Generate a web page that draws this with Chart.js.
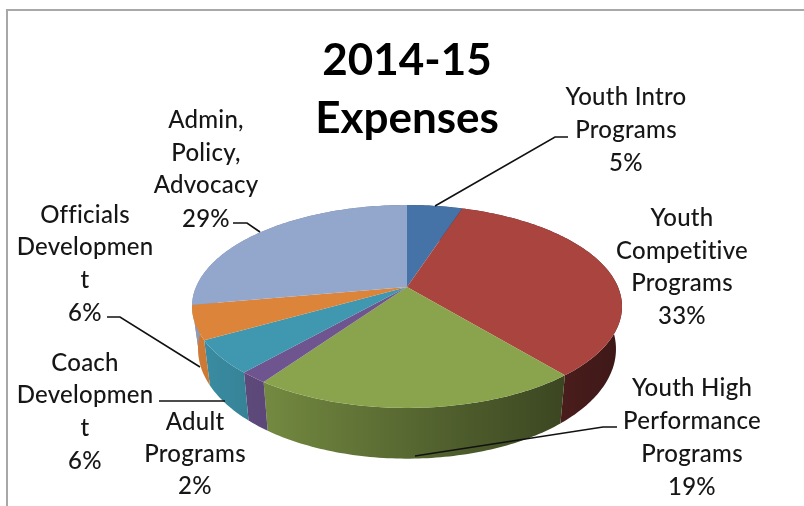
<!DOCTYPE html>
<html>
<head>
<meta charset="utf-8">
<title>2014-15 Expenses</title>
<script src="https://cdn.jsdelivr.net/npm/chart.js@4"></script>
<style>
  html, body { margin: 0; padding: 0; background: #fff; overflow: hidden; }
  #wrap { position: relative; width: 804px; height: 506px; }
  #frame { position: absolute; left: 6px; top: 9px; width: 820px; height: 520px; border: 2px solid #a8a8a8; }
  canvas { position: absolute; left: 0; top: 0; filter: blur(0.4px); }
</style>
</head>
<body>
<div id="wrap">
  <div id="frame"></div>
  <canvas id="chart" width="804" height="506"></canvas>
</div>
<script>
// --- data ---
const titleLines = ["2014-15", "Expenses"];
const categories = [
  "Youth Intro Programs",
  "Youth Competitive Programs",
  "Youth High Performance Programs",
  "Adult Programs",
  "Coach Development",
  "Officials Development",
  "Admin, Policy, Advocacy"
];
// printed percentages
const percentLabels = ["5%", "33%", "19%", "2%", "6%", "6%", "29%"];
// slice sizes as drawn in the picture (the green one is drawn wider than its 19% label)
const sliceValues = [5, 34, 20.7, 1.8, 5.3, 5.4, 27.8];

// --- styles ---
const sliceColors = ["#4572a7", "#a9443f", "#8aa44d", "#6e5590", "#3f98af", "#dd843b", "#93a7cd"];
const labelFont = '500 24px Lato, "Open Sans", sans-serif';
const labelColor = "#161616";

// label text broken as in the picture, x = centre of the block, y = middle of each line
const labelBlocks = [
  { lines: ["Youth Intro", "Programs"], x: 626, y: [97, 130, 163] },
  { lines: ["Youth", "Competitive", "Programs"], x: 682, y: [218, 251, 283, 316] },
  { lines: ["Youth High", "Performance", "Programs"], x: 692, y: [388, 421, 454, 487] },
  { lines: ["Adult", "Programs"], x: 195, y: [422, 454, 486] },
  { lines: ["Coach", "Developmen", "t"], x: 85, y: [363, 395, 428, 461] },
  { lines: ["Officials", "Developmen", "t"], x: 85, y: [215, 247, 280, 313] },
  { lines: ["Admin,", "Policy,", "Advocacy"], x: 206, y: [120, 153, 185, 219] }
];
const leaderLines = [
  [[568, 137], [555, 137], [435, 206]],
  [[617, 427], [603, 427], [415, 456]],
  [[159, 401], [225, 401]],
  [[107, 317], [120, 317], [200, 367]],
  [[233, 223], [247, 223], [260, 232]]
];

// fake 3D: the flat pie is seen in perspective, apex is not the middle of the ellipse
const apexX = 407, apexY = 287;
const radiusX = 211, radiusY = 97.7, tilt = 0.192, wallDepth = 41, wallInset = 0.028;

function project(angle) {
  // angle comes from the arc element, -PI/2 is 12 o'clock
  const t = angle + Math.PI / 2;
  const X = Math.sin(t), Y = -Math.cos(t);
  const w = 1 - tilt * Y;
  const x = apexX + radiusX * X / w;
  const y = apexY + radiusY * Y / w;
  // bottom rim is a little smaller than the top one
  return { x: x, y: y, bx: x + (apexX - x) * wallInset, by: y + wallDepth / w };
}

function shade(hex, f) {
  const n = parseInt(hex.slice(1), 16);
  return `rgb(${Math.round((n >> 16) * f)}, ${Math.round(((n >> 8) & 255) * f)}, ${Math.round((n & 255) * f)})`;
}

const pie3d = {
  id: "pie3d",
  beforeDatasetDraw(chart, args) {
    const ctx = chart.ctx;
    const arcs = chart.getDatasetMeta(args.index).data;
    const step = Math.PI / 180;

    // side walls first, darker from left to right
    arcs.forEach((arc, i) => {
      const grad = ctx.createLinearGradient(190, 0, 620, 0);
      grad.addColorStop(0, shade(sliceColors[i], 0.94));
      grad.addColorStop(0.6, shade(sliceColors[i], 0.58));
      grad.addColorStop(1, shade(sliceColors[i], 0.36));
      const rim = [];
      for (let a = arc.startAngle; a < arc.endAngle; a += step) rim.push(project(a));
      rim.push(project(arc.endAngle));
      ctx.fillStyle = grad;
      ctx.beginPath();
      rim.forEach((p, j) => j ? ctx.lineTo(p.x, p.y) : ctx.moveTo(p.x, p.y));
      rim.slice().reverse().forEach(p => ctx.lineTo(p.bx, p.by));
      ctx.closePath();
      ctx.fill();
    });

    // top face
    arcs.forEach((arc, i) => {
      ctx.fillStyle = sliceColors[i];
      ctx.beginPath();
      ctx.moveTo(apexX, apexY);
      for (let a = arc.startAngle; a < arc.endAngle; a += step) {
        const p = project(a);
        ctx.lineTo(p.x, p.y);
      }
      const e = project(arc.endAngle);
      ctx.lineTo(e.x, e.y);
      ctx.closePath();
      ctx.fill();
    });
    return false;
  },
  afterDraw(chart) {
    const ctx = chart.ctx;
    ctx.save();
    ctx.strokeStyle = "#111";
    ctx.lineWidth = 1.6;
    leaderLines.forEach(pts => {
      ctx.beginPath();
      pts.forEach((p, i) => i ? ctx.lineTo(p[0], p[1]) : ctx.moveTo(p[0], p[1]));
      ctx.stroke();
    });
    ctx.font = labelFont;
    ctx.letterSpacing = "0.25px"; // also stops the fi / ti ligatures of Lato
    ctx.fillStyle = labelColor;
    ctx.textAlign = "center";
    ctx.textBaseline = "middle";
    labelBlocks.forEach((b, i) => {
      b.lines.concat(percentLabels[i]).forEach((txt, j) => ctx.fillText(txt, b.x, b.y[j]));
    });
    ctx.restore();
  }
};

new Chart(document.getElementById("chart").getContext("2d"), {
  type: "pie",
  data: {
    labels: categories,
    datasets: [{ data: sliceValues, backgroundColor: sliceColors, borderWidth: 0 }]
  },
  options: {
    responsive: false,
    animation: false,
    layout: { padding: { left: 10 } },
    plugins: {
      legend: { display: false },
      tooltip: { enabled: false },
      title: {
        display: true,
        text: titleLines,
        color: "#000",
        font: { family: 'Lato, "Open Sans", sans-serif', size: 44, weight: "bold", lineHeight: 1.32 },
        padding: { top: 32, bottom: 10 }
      }
    }
  },
  plugins: [pie3d]
});
</script>
</body>
</html>
